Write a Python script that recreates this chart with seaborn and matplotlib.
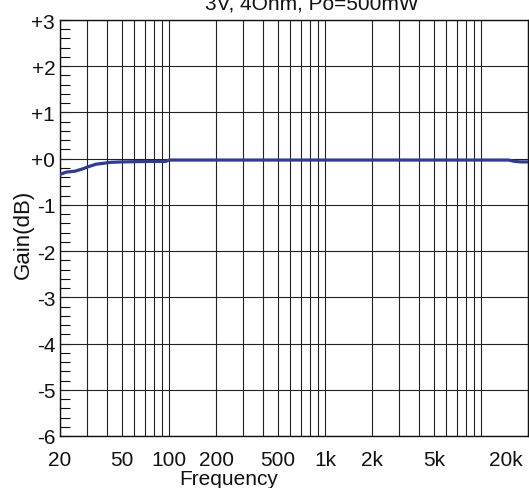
#! /usr/bin/env python3

import numpy as np
import pandas as pd
import seaborn as sns
import matplotlib.pyplot as plt
import matplotlib.transforms as mtransforms
from matplotlib.ticker import FixedLocator, NullFormatter

# frequency response
freq = [20, 22, 25, 28, 30, 34, 38, 42, 50, 60, 75, 95, 100, 200, 500,
        1000, 2000, 5000, 10000, 15000, 16500, 18000, 20000]
gain = [-0.34, -0.29, -0.27, -0.22, -0.18, -0.12, -0.10, -0.08, -0.07,
        -0.065, -0.06, -0.06, -0.03, -0.03, -0.03, -0.03, -0.03, -0.03,
        -0.03, -0.03, -0.06, -0.07, -0.07]

x_ticks = [20, 50, 100, 200, 500, 1000, 2000, 5000, 20000]
x_labels = ['20', '50', '100', '200', '500', '1k', '2k', '5k', '20k']
y_ticks = [3, 2, 1, 0, -1, -2, -3, -4, -5, -6]
y_labels = ['+3', '+2', '+1', '+0', '-1', '-2', '-3', '-4', '-5', '-6']
title = '3V, 4Ohm, Po=500mW'


def plot(output):
    sns.set_theme(style='white')
    plt.rcParams['font.family'] = ['Liberation Sans', 'DejaVu Sans']

    df = pd.DataFrame({'Frequency': freq, 'Gain': gain})

    fig = plt.figure(figsize=(5.29, 4.89), dpi=100)
    ax = fig.add_axes([60 / 529, 52 / 489, 468 / 529, 416 / 489])

    # grid: every 1..9 step per decade, every whole dB
    vgrid = [m * 10 ** e for e in range(1, 5) for m in range(1, 10)]
    vgrid = [v for v in vgrid if 20 <= v <= 20000]
    for v in vgrid:
        ax.axvline(v, color='#222222', linewidth=0.8, zorder=1)
    for h in y_ticks:
        ax.axhline(h, color='#222222', linewidth=0.8, zorder=1)

    sns.lineplot(data=df, x='Frequency', y='Gain', ax=ax,
                 color='#2e3b9a', linewidth=2.3, zorder=3)

    ax.set_xscale('log')
    ax.set_xlim(20, 20000)
    ax.set_ylim(-6, 3)

    ax.xaxis.set_major_locator(FixedLocator(x_ticks))
    ax.xaxis.set_minor_formatter(NullFormatter())
    ax.set_xticks(x_ticks)
    ax.set_xticklabels(x_labels, fontsize=15)
    ax.tick_params(axis='x', which='both', length=0, pad=10, colors='#111111')

    # last label sits left of the edge, as in the reference
    last = ax.get_xticklabels()[-1]
    last.set_horizontalalignment('right')
    last.set_transform(last.get_transform() + mtransforms.ScaledTranslation(
        -5 / 100, 0, fig.dpi_scale_trans))

    ax.set_yticks(y_ticks)
    ax.set_yticklabels(y_labels, fontsize=15)
    ax.set_yticks(np.arange(-6, 3.01, 0.2), minor=True)
    ax.tick_params(axis='y', which='major', direction='in', length=7,
                   width=0.8, pad=3.5, left=True, colors='#111111')
    ax.tick_params(axis='y', which='minor', direction='in', length=7,
                   width=0.8, left=True, color='#111111')

    for side in ['left', 'top', 'bottom', 'right']:
        ax.spines[side].set_color('#111111')
        ax.spines[side].set_linewidth(1.0)

    ax.set_xlabel('Frequency', fontsize=15, color='#111111')
    ax.xaxis.set_label_coords(0.36, -0.08)
    ax.set_ylabel('Gain(dB)', fontsize=16, color='#111111')
    ax.yaxis.set_label_coords(-0.056, 0.488)

    fig.text(0.59, 1 - 9 / 489, title, fontsize=15, ha='center',
             va='baseline', color='#111111')

    plt.savefig(output, dpi=100)


def main():
    plot('out.png')


if __name__ == '__main__':
    main()
